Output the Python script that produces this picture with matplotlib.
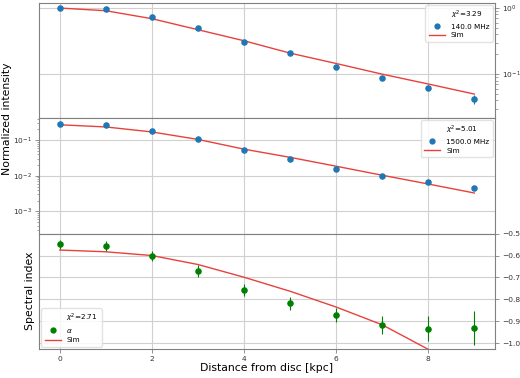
import numpy as np
import matplotlib
matplotlib.use("Agg")
import matplotlib.pyplot as plt
from matplotlib.lines import Line2D

dist = [0, 1, 2, 3, 4, 5, 6, 7, 8, 9]

i140 = [1.0, 0.97, 0.73, 0.50, 0.305, 0.208, 0.128, 0.087, 0.062, 0.042]
i140_err = [0.01, 0.01, 0.01, 0.01, 0.008, 0.006, 0.005, 0.004, 0.005, 0.006]
sim140 = [1.0, 0.91, 0.69, 0.47, 0.32, 0.208, 0.145, 0.10, 0.071, 0.050]

i1500 = [0.278, 0.27, 0.186, 0.105, 0.053, 0.030, 0.016, 0.0098, 0.0068, 0.0045]
i1500_err = [0.003, 0.003, 0.002, 0.001, 0.0006, 0.0004, 0.0002, 0.00015, 0.0001, 0.0001]
sim1500 = [0.27, 0.235, 0.17, 0.105, 0.056, 0.033, 0.0186, 0.0104, 0.0059, 0.0033]

alpha = [-0.548, -0.558, -0.603, -0.671, -0.756, -0.817, -0.872, -0.917, -0.933, -0.930]
alpha_err = [0.021, 0.022, 0.023, 0.027, 0.027, 0.030, 0.032, 0.043, 0.057, 0.078]
sim_alpha = [-0.575, -0.583, -0.600, -0.641, -0.699, -0.763, -0.835, -0.916, -1.028, -1.15]

chi2 = ["$\\chi^2$=3.29", "$\\chi^2$=5.01", "$\\chi^2$=2.71"]
labels = ["140.0 MHz", "1500.0 MHz", "$\\alpha$"]

fig = plt.figure(figsize=(5.2, 3.78), dpi=100)
gs = fig.add_gridspec(3, 1, left=0.075, right=0.952, top=0.992, bottom=0.077, hspace=0)
axes = [fig.add_subplot(gs[i]) for i in range(3)]

tick_fs = 5.4
label_fs = 7.8
grid_kw = dict(color="#d0d0d0", linewidth=0.8)
blue = "#1f77b4"
red = "#e8413c"

def style(ax):
    for s in ax.spines.values():
        s.set_color("#808080")
    ax.tick_params(labelsize=tick_fs, colors="#808080", labelcolor="#333333", length=3, width=0.6, pad=2)
    ax.tick_params(which="minor", colors="#808080", length=1.8, width=0.5)
    ax.grid(True, which="major", **grid_kw)
    ax.set_axisbelow(True)

def leg(ax, lab, chi, color, loc):
    h = [Line2D([], [], linestyle="none", marker=None),
         Line2D([], [], linestyle="none", marker="o", color=color, markersize=3.5),
         Line2D([], [], color=red, linewidth=1)]
    ax.legend(h, [chi, lab, "Sim"], loc=loc, fontsize=5.2, handlelength=2.2,
              framealpha=0.85, edgecolor="#dddddd", borderpad=0.5, labelspacing=0.35,
              borderaxespad=0.3, handletextpad=0.8)

# top panel
ax = axes[0]
ax.set_yscale("log")
ax.errorbar(dist, i140, yerr=i140_err, fmt="o", color=blue, markersize=3.7, elinewidth=0.8, zorder=3)
ax.plot(dist, sim140, color=red, linewidth=1, zorder=2)
ax.set_ylim(0.0215, 1.19)
ax.yaxis.tick_right()
ax.tick_params(labelbottom=False)
style(ax)
leg(ax, labels[0], chi2[0], blue, "upper right")

# middle panel
ax = axes[1]
ax.set_yscale("log")
ax.errorbar(dist, i1500, yerr=i1500_err, fmt="o", color=blue, markersize=3.7, elinewidth=0.8, zorder=3)
ax.plot(dist, sim1500, color=red, linewidth=1, zorder=2)
ax.set_ylim(2.4e-4, 0.41)
ax.tick_params(labelbottom=False)
style(ax)
leg(ax, labels[1], chi2[1], blue, "upper right")

# bottom panel
ax = axes[2]
ax.errorbar(dist, alpha, yerr=alpha_err, fmt="o", color="green", markersize=3.7, elinewidth=0.8, zorder=3)
ax.plot(dist, sim_alpha, color=red, linewidth=1, zorder=2)
ax.set_ylim(-1.026, -0.5)
ax.set_yticks([-0.5, -0.6, -0.7, -0.8, -0.9, -1.0])
ax.yaxis.tick_right()
style(ax)
leg(ax, labels[2], chi2[2], "green", "lower left")
ax.set_xlabel("Distance from disc [kpc]", fontsize=label_fs, labelpad=1)
ax.set_ylabel("Spectral index", fontsize=label_fs, labelpad=3)

for ax in axes:
    ax.set_xlim(-0.45, 9.45)
    ax.set_xticks([0, 2, 4, 6, 8])

fig.text(0.013, 0.687, "Normalized intensity", rotation=90, va="center", ha="center", fontsize=label_fs)

fig.savefig("out.png", dpi=100)
